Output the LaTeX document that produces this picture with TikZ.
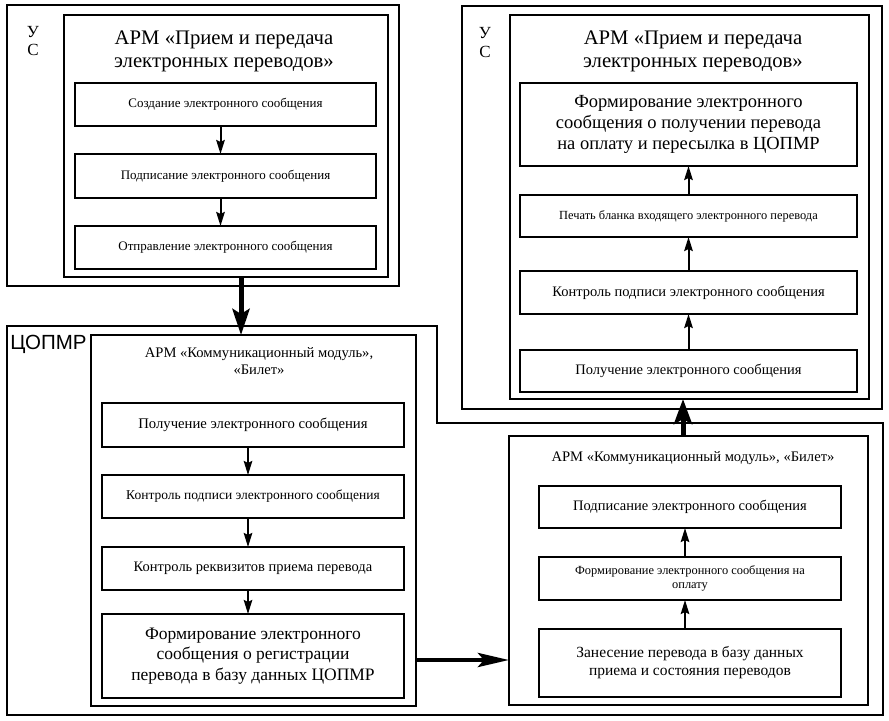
\documentclass[tikz,border=0pt]{standalone}
\usepackage{fontspec}
\setmainfont{Liberation Serif}
\newfontfamily\sansf{Liberation Sans}
\usetikzlibrary{arrows.meta}
\tikzset{
  outerbox/.style={draw, line width=1.5bp, inner sep=0pt, outer sep=0pt},
  innerbox/.style={draw, line width=2.6bp, inner sep=0pt, outer sep=0pt},
  stepbox/.style={draw, line width=1.6bp, inner sep=0pt, outer sep=0pt, align=center, font=\fontsize{14.5bp}{17bp}\selectfont},
  titletext/.style={align=center, inner sep=0pt, font=\fontsize{20.7bp}{23bp}\selectfont},
  smalltitle/.style={align=center, inner sep=0pt, font=\fontsize{14.6bp}{17bp}\selectfont},
  bigtext/.style={font=\fontsize{18.5bp}{21bp}\selectfont},
  smalltext/.style={font=\fontsize{12.4bp}{14bp}\selectfont},
  letter/.style={inner sep=0pt, font=\fontsize{17bp}{18bp}\selectfont},
  flow/.style={line width=2bp, -{Stealth[length=14bp,width=8.5bp,inset=2bp]}},
}
\begin{document}
\begin{tikzpicture}[x=1bp,y=-1bp]
\useasboundingbox (0,0) rectangle (889,721);
% ---------- top-left: US ----------
\node[outerbox, minimum width=392bp, minimum height=281bp] (us1) at (203,145.5) {};
\node[innerbox, minimum width=324bp, minimum height=262bp] (us1in) at (226,146) {};
\node[letter] (us1u) at (33,32) {У};
\node[letter] (us1c) at (33,50) {С};
\node[titletext] (us1t) at (224,51.5) {АРМ «Прием и передача\\электронных переводов»};
\node[stepbox, font=\fontsize{13bp}{16bp}\selectfont, minimum width=301bp, minimum height=43bp] (a1) at (225.5,104.5) {Создание электронного сообщения};
\node[stepbox, font=\fontsize{13bp}{16bp}\selectfont, minimum width=301bp, minimum height=44bp] (a2) at (225.5,176) {Подписание электронного сообщения};
\node[stepbox, font=\fontsize{13bp}{16bp}\selectfont, minimum width=301bp, minimum height=43bp] (a3) at (225.5,247.5) {Отправление электронного сообщения};
\draw[flow] ([xshift=-5bp]a1.south) -- ([xshift=-5bp]a2.north);
\draw[flow] ([xshift=-5bp]a2.south) -- ([xshift=-5bp]a3.north);

% ---------- top-right: US ----------
\node[outerbox, minimum width=420bp, minimum height=403bp] (us2) at (672,207.5) {};
\node[innerbox, minimum width=359bp, minimum height=384bp] (us2in) at (689.5,207) {};
\node[letter] (us2u) at (485,33) {У};
\node[letter] (us2c) at (485,52) {С};
\node[titletext] (us2t) at (693,51) {АРМ «Прием и передача\\электронных переводов»};
\node[stepbox, bigtext, minimum width=337bp, minimum height=83bp] (b1) at (688.5,124.5) {Формирование электронного\\сообщения о получении перевода\\на оплату и пересылка в ЦОПМР};
\node[stepbox, smalltext, minimum width=337bp, minimum height=42bp] (b2) at (688.5,216) {Печать бланка входящего электронного перевода};
\node[stepbox, minimum width=337bp, minimum height=43bp] (b3) at (688.5,292.5) {Контроль подписи электронного сообщения};
\node[stepbox, minimum width=337bp, minimum height=42bp] (b4) at (688.5,371) {Получение электронного сообщения};
\draw[flow] (b4.north) -- (b3.south);
\draw[flow] (b3.north) -- (b2.south);
\draw[flow] (b2.north) -- (b1.south);

% ---------- COPMR ----------
\coordinate (c1) at (7,326);
\coordinate (c2) at (437,326);
\coordinate (c3) at (437,423);
\coordinate (c4) at (883,423);
\coordinate (c5) at (883,715);
\coordinate (c6) at (7,715);
\draw[line width=1.5bp] (c1) -- (c2) -- (c3) -- (c4) -- (c5) -- (c6) -- cycle;
\node[inner sep=0pt, font=\sansf\fontsize{20.5bp}{21bp}\selectfont] (coplabel) at (48.5,344) {ЦОПМР};
\node[innerbox, minimum width=325bp, minimum height=371bp] (cin) at (253.5,520.5) {};
\node[smalltitle] (ct) at (259,361.5) {АРМ «Коммуникационный модуль»,\\«Билет»};
\node[stepbox, font=\fontsize{14.7bp}{17bp}\selectfont, minimum width=302bp, minimum height=44bp] (c1b) at (253,425) {Получение электронного сообщения};
\node[stepbox, font=\fontsize{13.5bp}{16bp}\selectfont, minimum width=302bp, minimum height=43bp] (c2b) at (253,496.5) {Контроль подписи электронного сообщения};
\node[stepbox, minimum width=302bp, minimum height=43bp] (c3b) at (253,568.5) {Контроль реквизитов приема перевода};
\node[stepbox, font=\fontsize{17.5bp}{20.5bp}\selectfont, minimum width=302bp, minimum height=84bp] (c4b) at (253,656) {Формирование электронного\\сообщения о регистрации\\перевода в базу данных ЦОПМР};
\draw[flow] ([xshift=-5bp]c1b.south) -- ([xshift=-5bp]c2b.north);
\draw[flow] ([xshift=-5bp]c2b.south) -- ([xshift=-5bp]c3b.north);
\draw[flow] ([xshift=-5bp]c3b.south) -- ([xshift=-5bp]c4b.north);

% ---------- bottom-right ----------
\node[innerbox, minimum width=359bp, minimum height=269bp] (din) at (688.5,570.5) {};
\node[smalltitle] (dt) at (693,458) {АРМ «Коммуникационный модуль», «Билет»};
\node[stepbox, minimum width=302bp, minimum height=42bp] (d1) at (690,507) {Подписание электронного сообщения};
\node[stepbox, smalltext, minimum width=302bp, minimum height=43bp] (d2) at (690,578.5) {Формирование электронного сообщения на\\оплату};
\node[stepbox, font=\fontsize{15.5bp}{18bp}\selectfont, minimum width=302bp, minimum height=68bp] (d3) at (690,663) {Занесение перевода в базу данных\\приема и состояния переводов};
\draw[flow] ([xshift=-5bp]d3.north) -- ([xshift=-5bp]d2.south);
\draw[flow] ([xshift=-5bp]d2.north) -- ([xshift=-5bp]d1.south);

% ---------- thick connectors ----------
\coordinate (ua) at (241,277);
\draw[line width=5bp, -{Stealth[length=26bp,width=17bp,inset=5bp]}] (ua) -- (ua |- cin.north);
\coordinate (ha) at (416,660);
\draw[line width=4.5bp, -{Stealth[length=31bp,width=14bp,inset=6bp]}] (ha) -- (ha -| din.west);
\coordinate (va) at (683,436);
\draw[line width=5bp, -{Stealth[length=25bp,width=18bp,inset=5bp]}] (va) -- (va |- us2in.south);
\end{tikzpicture}
\end{document}
